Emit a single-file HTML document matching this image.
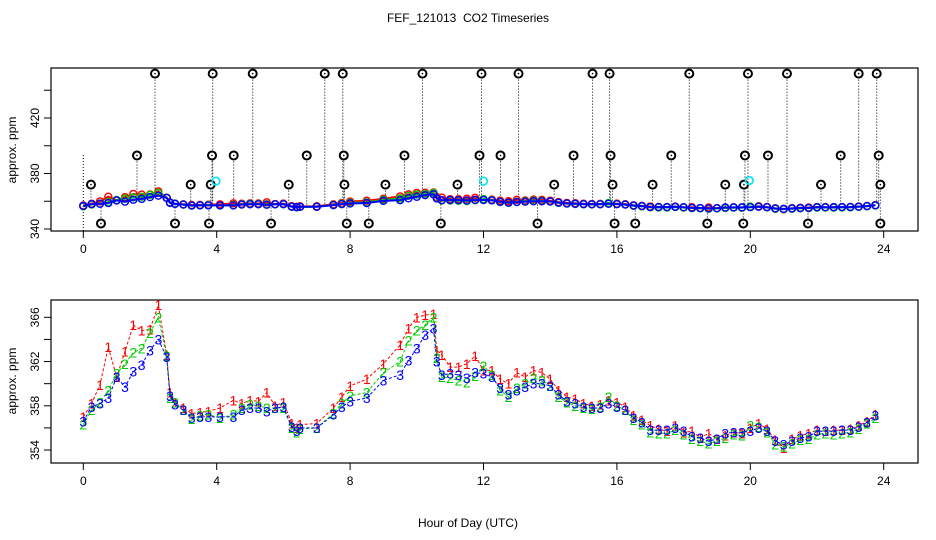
<!DOCTYPE html>
<html><head><meta charset="utf-8"><style>
body{margin:0;background:#fff;}
svg{display:block;font-family:"Liberation Sans",sans-serif;}
text{white-space:pre;}
</style></head><body>
<svg id="c" width="936" height="540"></svg>
<script>
const times=[0,0.25,0.5,0.75,1,1.25,1.5,1.75,2,2.25,2.5,2.6,2.75,3,3.25,3.5,3.75,4.1,4.5,4.75,5,5.25,5.5,5.75,6,6.25,6.4,6.5,7,7.5,7.75,8,8.5,9,9.5,9.75,10,10.25,10.5,10.6,10.75,11,11.25,11.5,11.75,12,12.25,12.5,12.75,13,13.25,13.5,13.75,14,14.25,14.5,14.75,15,15.25,15.5,15.75,16,16.25,16.5,16.75,17,17.25,17.5,17.75,18,18.25,18.5,18.75,19,19.25,19.5,19.75,20,20.25,20.5,20.75,21,21.25,21.5,21.75,22,22.25,22.5,22.75,23,23.25,23.5,23.75];
const series1=[357,358.2,359.9,363.3,360.6,362.9,365.3,364.8,364.9,367.1,362.6,359.2,358.3,357.8,357.3,357.4,357.5,357.8,358.5,358.2,358.5,358.4,359.2,358,358.3,356.4,356,356.3,356.4,357.8,358.8,359.8,360.4,361.8,363.5,365,366,366.2,366.3,363,362.6,361.5,361.5,361.8,362.5,361.2,361.2,360.4,360,361,360.6,361.2,361,360.4,359.4,358.8,358.6,358.2,358,358.1,358.5,358.3,357.9,357.1,356.7,356.2,355.9,355.7,356.2,355.6,355.7,355.1,355.5,355,355.3,355.6,355.5,356,356.4,355.9,354.9,354.2,355,355.3,355.5,355.8,355.7,355.8,355.8,355.9,356.2,356.6,357.2];
const series2=[356.3,357.6,358.3,359.4,360.9,361.8,362.8,363.2,364.6,366,362.5,358.7,358.3,357.6,356.8,357.1,357.2,356.9,357.2,357.8,358.1,358,357.8,357.8,357.8,356,355.6,355.9,356,357.3,358.2,358.9,359.2,361,362,363.9,364.8,365.3,366,362.3,360.6,360.5,360.3,360.1,360.7,361.6,360.8,359.4,358.8,359.6,360,360.5,360.3,359.8,358.8,358.3,358,357.8,357.7,357.9,358.8,358,357.6,356.7,356.3,355.6,355.5,355.5,355.8,355.4,355,354.8,354.6,354.8,355.1,355.4,355.3,356.2,356.1,355.6,354.5,354.3,354.6,354.9,355,355.4,355.5,355.4,355.5,355.6,355.9,356.4,356.9];
const series3=[356.6,357.9,358.2,358.7,360.6,359.7,361.1,361.7,363,364,362.4,358.9,358.1,357.6,356.9,357,357,357,357,357.6,357.8,357.8,357.5,357.8,357.9,356.1,355.7,356,356,357.2,357.9,358.4,358.7,360.3,360.8,362.1,363.2,364.4,365,362,360.8,360.9,360.8,360.5,361,360.9,360.6,359.6,359,359.4,359.7,360,360,359.8,359,358.4,358.2,357.9,357.8,357.8,358.2,357.9,357.6,356.9,356.5,355.8,355.8,355.8,356,355.7,355.2,355.1,354.8,355,355.5,355.6,355.6,355.7,356,355.7,354.8,354.5,354.8,355.1,355.2,355.7,355.7,355.7,355.8,355.8,356.1,356.5,357.1];
const outlierHours=[2.15,3.88,5.08,7.24,7.78,10.17,11.94,13.05,15.27,15.78,18.17,19.93,21.1,23.25,23.79,1.61,3.86,4.51,6.7,7.81,9.63,11.88,12.51,14.7,15.81,17.63,19.84,20.53,22.71,23.85,0.23,3.22,3.82,6.16,7.83,9.06,11.22,14.12,15.87,17.07,19.25,19.81,22.12,23.9,0.53,2.75,3.77,5.63,7.9,8.56,10.72,13.62,15.93,16.55,18.71,19.79,21.73,23.9];
const outlierValues=[452,452,452,452,452,452,452,452,452,452,452,452,452,452,452,393,393,393,393,393,393,393,393,393,393,393,393,393,393,393,372,372,372,372,372,372,372,372,372,372,372,372,372,372,344,344,344,344,344,344,344,344,344,344,344,344,344,344];
const cyanHours=[3.98,12.0,19.97];
const cyanValues=[374.5,374.5,375];
const xTicks=[0,4,8,12,16,20,24];
const topTicks=[340,360,380,400,420,440];
const topLabels=[340,380,420];
const botTicks=[354,356,358,360,362,364,366];
const botLabels=[354,358,362,366];

const svg=document.getElementById('c');
const NS='http://www.w3.org/2000/svg';
function mk(tag,at,parent){const e=document.createElementNS(NS,tag);for(const k in at)e.setAttribute(k,at[k]);(parent||svg).appendChild(e);return e;}
const X=h=>83.3+h*33.35;
const YT=v=>229-(v-340)*1.3875;
const YB=v=>317.3+(366-v)*11.06;
const colors=['#ff0000','#00cc00','#0000ff'];
const allSeries=[series1,series2,series3];

let t=mk('text',{x:468,y:22,'text-anchor':'middle','font-size':12});t.textContent='FEF_121013  CO2 Timeseries';


t=mk('text',{x:468,y:527,'text-anchor':'middle','font-size':12});t.textContent='Hour of Day (UTC)';



function panel(name,top,bottom,Y,ticks,labels,ytitleY){
  const g=mk('g',{});
  
  
  const box=mk('rect',{x:51,y:top,width:867,height:bottom-top,fill:'none',stroke:'#000','stroke-width':1.2},g);
  
  
  xTicks.forEach(h=>{
    mk('line',{x1:X(h),x2:X(h),y1:bottom,y2:bottom+7,stroke:'#000'},g);
    const l=mk('text',{x:X(h),y:bottom+22,'text-anchor':'middle','font-size':12},g);l.textContent=h;
    
    
  });
  ticks.forEach(v=>mk('line',{x1:44,x2:51,y1:Y(v),y2:Y(v),stroke:'#000'},g));
  labels.forEach(v=>{
    const l=mk('text',{x:0,y:0,'text-anchor':'middle','font-size':12,transform:`translate(39,${Y(v)}) rotate(-90)`},g);l.textContent=v;
    
    
  });
  const yt=mk('text',{x:0,y:0,'text-anchor':'middle','font-size':12,transform:`translate(16,${ytitleY}) rotate(-90)`},g);yt.textContent='approx. ppm';
  
  
  return g;
}
const gt=panel('top-panel',68,231,YT,topTicks,topLabels,150);
const gb=panel('bottom-panel',300,463,YB,botTicks,botLabels,381);

const baseIdx=h=>{let b=0;times.forEach((tt,i)=>{if(Math.abs(tt-h)<Math.abs(times[b]-h))b=i;});return series3[b];};
mk('line',{x1:X(0),x2:X(0),y1:155,y2:231,stroke:'#000','stroke-dasharray':'1,2'},gt);
outlierHours.forEach((h,i)=>{
  mk('line',{x1:X(h),x2:X(h),y1:YT(outlierValues[i]),y2:YT(baseIdx(h)),stroke:'#000','stroke-dasharray':'1,2'},gt);
});
allSeries.forEach((s,k)=>{
  const pl=mk('polyline',{points:s.map((v,i)=>X(times[i])+','+YT(v)).join(' '),fill:'none',stroke:colors[k],'stroke-width':2},gt);
  
  
  s.forEach((v,i)=>{
    const c=mk('circle',{cx:X(times[i]),cy:YT(v),r:3.5,fill:'none',stroke:colors[k],'stroke-width':1.4},gt);
    
    
  });
});
outlierHours.forEach((h,i)=>{
  const c=mk('circle',{cx:X(h),cy:YT(outlierValues[i]),r:4,fill:'#fff',stroke:'#000','stroke-width':2},gt);
  
  
  mk('circle',{cx:X(h),cy:YT(outlierValues[i]),r:0.8,fill:'#000'},gt);
});
cyanHours.forEach((h,i)=>{
  const c=mk('circle',{cx:X(h),cy:YT(cyanValues[i]),r:3.8,fill:'none',stroke:'#00e5ee','stroke-width':1.6},gt);
  
  
});

allSeries.forEach((s,k)=>{
  const pl=mk('polyline',{points:s.map((v,i)=>X(times[i])+','+YB(v)).join(' '),fill:'none',stroke:colors[k],'stroke-width':1,'stroke-dasharray':'3,2'},gb);
  
  
  s.forEach((v,i)=>{
    const tx=mk('text',{x:X(times[i]),y:YB(v)+5,'text-anchor':'middle','font-size':14,fill:colors[k]},gb);
    tx.textContent=String(k+1);
    
    
  });
});
</script>
</body></html>
